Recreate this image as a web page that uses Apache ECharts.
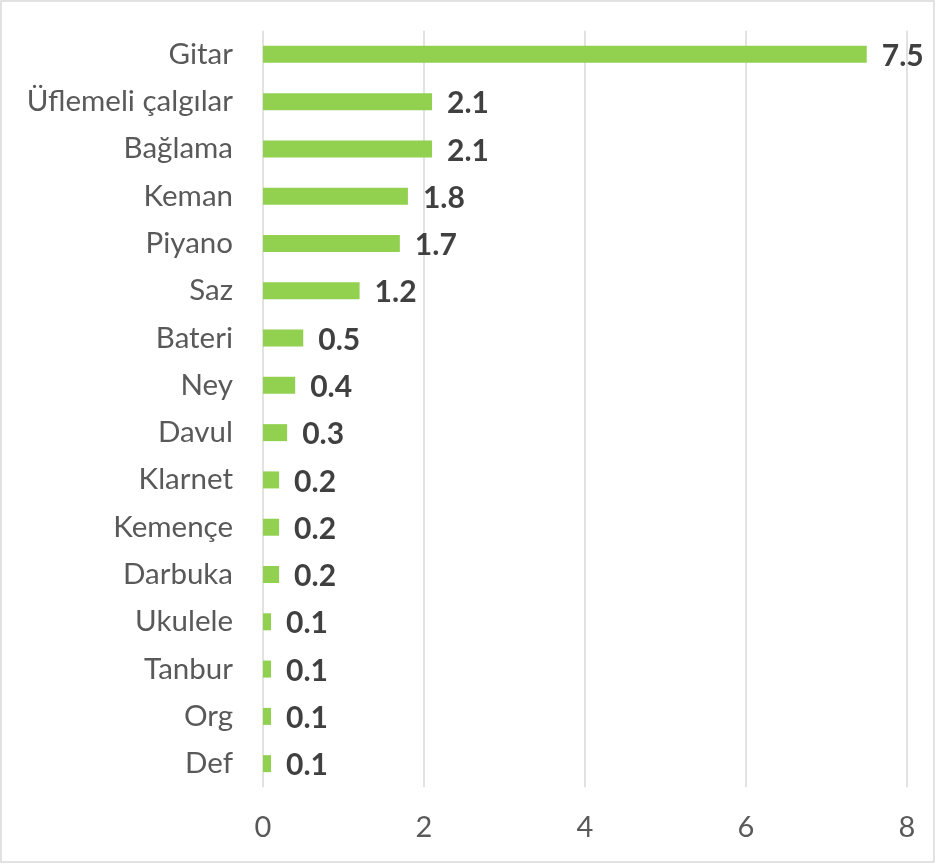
<!DOCTYPE html>
<html>
<head>
<meta charset="utf-8">
<script src="https://cdn.jsdelivr.net/npm/echarts@6/dist/echarts.min.js"></script>
<style>
html,body{margin:0;padding:0;background:#fff;}
#c{width:936px;height:864px;}
</style>
</head>
<body>
<div id="c"></div>
<script>
const categories = ["Gitar","Üflemeli çalgılar","Bağlama","Keman","Piyano","Saz","Bateri","Ney","Davul","Klarnet","Kemençe","Darbuka","Ukulele","Tanbur","Org","Def"];
const values = [7.5,2.1,2.1,1.8,1.7,1.2,0.5,0.4,0.3,0.2,0.2,0.2,0.1,0.1,0.1,0.1];
const xTicks = [0,2,4,6,8];

const chart = echarts.init(document.getElementById('c'), null, {renderer:'canvas'});
chart.setOption({
  animation:false,
  backgroundColor:'#ffffff',
  graphic:[{type:'rect',shape:{x:1,y:1,width:933,height:861},style:{fill:'none',stroke:'#D9D9D9',lineWidth:1.5},silent:true}],
  grid:{left:263,right:29,top:30.7,bottom:76.7,containLabel:false},
  xAxis:{
    type:'value',min:xTicks[0],max:xTicks[xTicks.length-1],interval:2,
    axisLine:{show:false},axisTick:{show:false},
    axisLabel:{color:'#595959',fontFamily:'Lato',fontSize:29,margin:26},
    splitLine:{show:true,lineStyle:{color:'#D9D9D9',width:1.5}}
  },
  yAxis:{
    type:'category',data:categories,inverse:true,
    axisLine:{show:false},axisTick:{show:false},
    axisLabel:{color:'#595959',fontFamily:'Lato',fontSize:29.5,margin:30}
  },
  series:[{
    type:'bar',data:values,barWidth:17,
    itemStyle:{color:'#92D050'},
    label:{show:true,position:'right',distance:15,offset:[0,2],color:'#404040',fontFamily:'Lato',fontWeight:'bold',fontSize:30}
  }]
});
</script>
</body>
</html>
